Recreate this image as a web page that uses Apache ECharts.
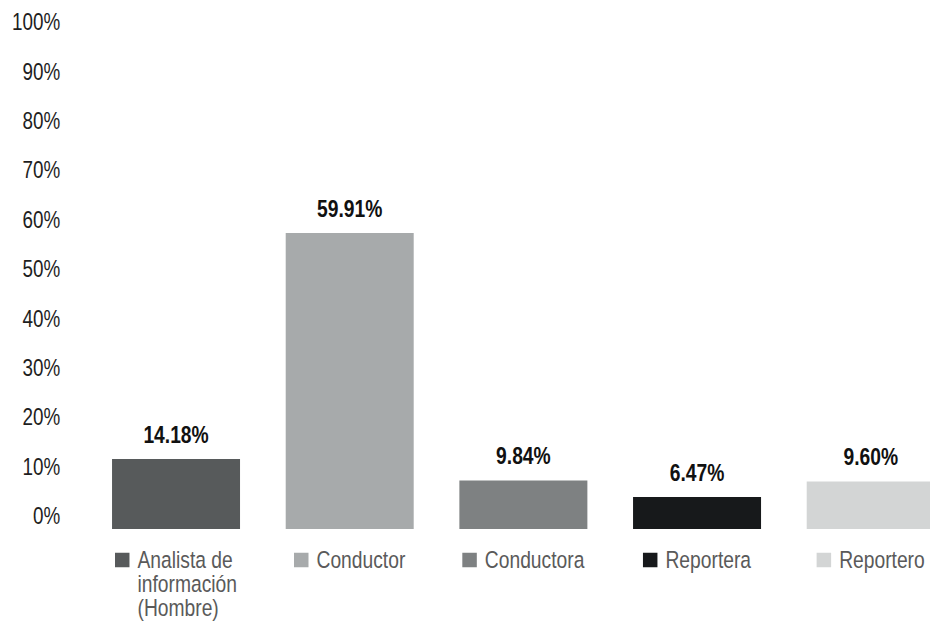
<!DOCTYPE html>
<html>
<head>
<meta charset="utf-8">
<script src="https://cdn.jsdelivr.net/npm/echarts@6/dist/echarts.min.js"></script>
<style>
html,body{margin:0;padding:0;background:#fff;width:930px;height:621px;overflow:hidden;}
#wrap{width:930px;height:621px;overflow:hidden;position:relative;}
#chart{width:1180px;height:621px;transform:scaleX(0.82);transform-origin:0 0;position:absolute;left:0;top:0;}
</style>
</head>
<body>
<div id="wrap"><div id="chart"></div></div>
<script>
const categories = ['Analista de\ninformación\n(Hombre)', 'Conductor', 'Conductora', 'Reportera', 'Reportero'];
const values = [14.18, 59.91, 9.84, 6.47, 9.60];
const barColors = ['#575a5b', '#a7aaab', '#7e8182', '#17191b', '#d3d5d5'];

// horizontal condensation factor (reference uses a narrow typeface)
const S = 0.82;
const FONT = "'Liberation Sans', Arial, sans-serif";

const rich = {
  g: { width: 8 / S, align: 'left' },
  sp: { width: (14.5 + 8) / S, align: 'left' },
  t: { fontFamily: FONT, fontSize: 23.5, color: '#5a5a5a', lineHeight: 24, align: 'left' }
};
barColors.forEach((c, i) => {
  rich['ic' + i] = { width: 14.5 / S, height: 14.5, backgroundColor: c, align: 'left' };
});

const chart = echarts.init(document.getElementById('chart'), null, { renderer: 'svg' });
chart.setOption({
  animation: false,
  backgroundColor: '#ffffff',
  grid: { left: 89.2 / S, width: (173.67 * 5) / S, top: 35, bottom: 92, containLabel: false },
  xAxis: {
    type: 'category',
    data: categories,
    axisLine: { show: false },
    axisTick: { show: false },
    splitLine: { show: false },
    axisLabel: {
      interval: 0,
      margin: 19,
      formatter: function (val, idx) {
        const lines = val.split('\n');
        return lines.map((l, j) => (j === 0 ? '{ic' + idx + '|}{g|}' : '{sp|}') + '{t|' + l + '}').join('\n');
      },
      rich: rich
    }
  },
  yAxis: {
    type: 'value',
    min: 0,
    max: 100,
    interval: 10,
    axisLine: { show: false },
    axisTick: { show: false },
    splitLine: { show: false },
    axisLabel: {
      formatter: '{value}%',
      fontFamily: FONT,
      fontSize: 23,
      color: '#1e1e1e',
      margin: 29 / S,
      verticalAlign: 'bottom',
      lineHeight: 26
    }
  },
  series: [{
    type: 'bar',
    data: values.map((v, i) => ({ value: v, itemStyle: { color: barColors[i] } })),
    barWidth: 128 / S,
    label: {
      show: true,
      position: 'top',
      distance: 12,
      fontFamily: FONT,
      fontSize: 23.5,
      fontWeight: 'bold',
      color: '#111111',
      formatter: p => p.value.toFixed(2) + '%'
    }
  }]
});
</script>
</body>
</html>
